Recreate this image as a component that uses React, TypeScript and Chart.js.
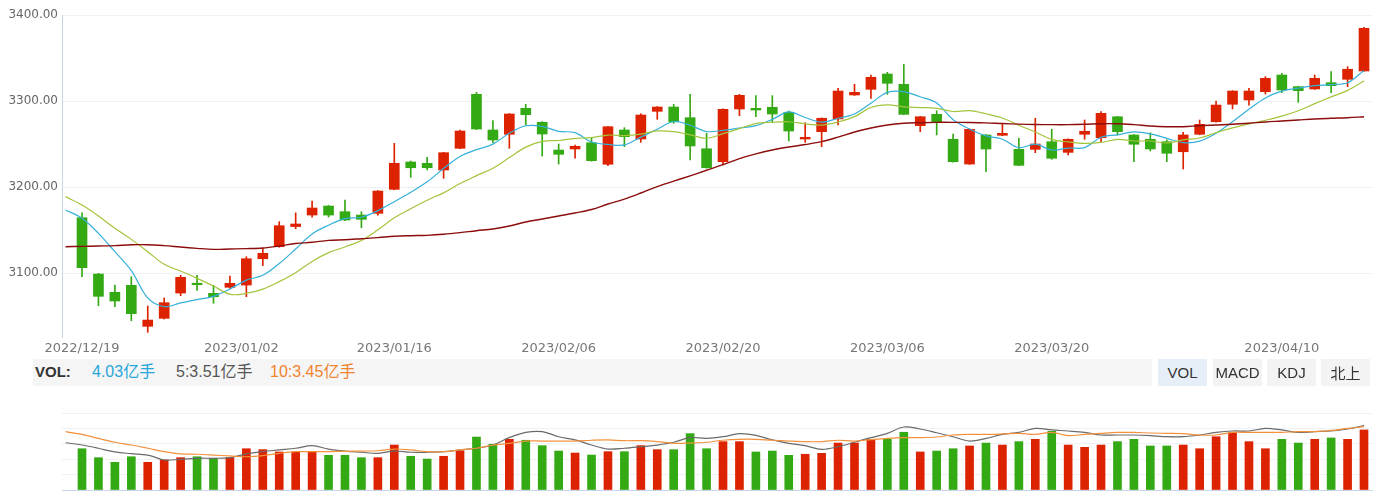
import React, { useEffect, useRef } from 'react';
import { Chart, registerables } from 'chart.js';

Chart.register(...registerables);

// ---------- DATA (index 0 = prior trading day, only moving averages shown) ----------
const dates = [
  '2022/12/16',
  '2022/12/19', '2022/12/20', '2022/12/21', '2022/12/22', '2022/12/23',
  '2022/12/26', '2022/12/27', '2022/12/28', '2022/12/29', '2022/12/30',
  '2023/01/03', '2023/01/04', '2023/01/05', '2023/01/06',
  '2023/01/09', '2023/01/10', '2023/01/11', '2023/01/12', '2023/01/13',
  '2023/01/16', '2023/01/17', '2023/01/18', '2023/01/19', '2023/01/20',
  '2023/01/30', '2023/01/31', '2023/02/01', '2023/02/02', '2023/02/03',
  '2023/02/06', '2023/02/07', '2023/02/08', '2023/02/09', '2023/02/10',
  '2023/02/13', '2023/02/14', '2023/02/15', '2023/02/16', '2023/02/17',
  '2023/02/20', '2023/02/21', '2023/02/22', '2023/02/23', '2023/02/24',
  '2023/02/27', '2023/02/28', '2023/03/01', '2023/03/02', '2023/03/03',
  '2023/03/06', '2023/03/07', '2023/03/08', '2023/03/09', '2023/03/10',
  '2023/03/13', '2023/03/14', '2023/03/15', '2023/03/16', '2023/03/17',
  '2023/03/20', '2023/03/21', '2023/03/22', '2023/03/23', '2023/03/24',
  '2023/03/27', '2023/03/28', '2023/03/29', '2023/03/30', '2023/03/31',
  '2023/04/03', '2023/04/04', '2023/04/06', '2023/04/07',
  '2023/04/10', '2023/04/11', '2023/04/12', '2023/04/13', '2023/04/14',
  '2023/04/17',
];

const openP: (number | null)[] = [null,
  3164.3, 3098.8, 3077.6, 3085.7, 3038.0, 3047.3, 3076.7, 3088.0, 3076.4, 3083.4,
  3086.0, 3116.6, 3130.6, 3154.0, 3167.4, 3177.9, 3171.3, 3167.4, 3169.4, 3197.3,
  3229.1, 3227.6, 3219.8, 3245.0, 3307.8, 3266.3, 3261.3, 3291.5, 3275.2, 3243.0,
  3244.2, 3251.5, 3226.4, 3266.3, 3255.8, 3288.0, 3293.0, 3280.6, 3244.5, 3229.4,
  3290.7, 3291.5, 3292.7, 3286.9, 3255.8, 3264.3, 3279.1, 3307.0, 3313.6, 3331.4,
  3319.4, 3271.3, 3284.5, 3255.5, 3226.7, 3260.5, 3260.1, 3243.8, 3243.8, 3252.7,
  3240.3, 3261.3, 3257.3, 3281.7, 3260.5, 3255.5, 3252.7, 3241.0, 3261.3, 3275.9,
  3296.2, 3301.2, 3310.8, 3330.2, 3316.7, 3314.0, 3321.3, 3325.2, 3334.9,
];
const highP: (number | null)[] = [null,
  3170.1, 3099.6, 3086.0, 3095.7, 3061.6, 3071.0, 3097.3, 3097.3, 3085.7, 3096.5,
  3119.0, 3128.7, 3159.7, 3170.0, 3183.7, 3178.5, 3184.9, 3171.3, 3195.8, 3250.8,
  3230.2, 3234.5, 3240.4, 3266.3, 3310.1, 3277.1, 3285.4, 3296.2, 3276.0, 3250.0,
  3248.8, 3257.3, 3270.6, 3269.0, 3285.2, 3293.5, 3296.2, 3307.8, 3262.4, 3290.8,
  3307.8, 3306.2, 3306.2, 3288.4, 3274.8, 3280.4, 3314.8, 3319.4, 3330.2, 3333.4,
  3342.7, 3282.2, 3288.7, 3261.6, 3267.6, 3261.0, 3274.1, 3256.6, 3279.9, 3267.1,
  3255.9, 3277.9, 3287.6, 3282.2, 3261.0, 3263.1, 3254.7, 3263.6, 3277.9, 3300.0,
  3312.0, 3314.8, 3328.3, 3332.2, 3317.2, 3330.2, 3334.1, 3339.9, 3385.7,
];
const lowP: (number | null)[] = [null,
  3095.7, 3062.0, 3060.8, 3044.5, 3031.0, 3046.5, 3073.6, 3079.9, 3064.8, 3082.2,
  3072.4, 3108.5, 3130.0, 3151.5, 3165.0, 3165.0, 3161.0, 3152.7, 3167.4, 3196.8,
  3211.3, 3219.8, 3210.1, 3244.5, 3266.8, 3251.5, 3245.0, 3272.1, 3236.0, 3226.7,
  3233.4, 3230.0, 3224.8, 3246.9, 3252.0, 3278.7, 3274.0, 3231.4, 3221.9, 3225.6,
  3282.9, 3281.7, 3274.8, 3253.5, 3252.0, 3246.9, 3272.1, 3306.5, 3303.1, 3307.8,
  3284.0, 3264.3, 3260.5, 3229.0, 3226.2, 3217.8, 3259.6, 3224.8, 3239.9, 3232.2,
  3237.2, 3255.5, 3252.7, 3260.5, 3229.4, 3241.9, 3229.4, 3220.9, 3260.8, 3275.4,
  3290.7, 3295.3, 3308.1, 3309.7, 3298.5, 3313.5, 3309.7, 3316.7, 3334.4,
];
const closeP: (number | null)[] = [null,
  3106.2, 3072.9, 3067.4, 3052.7, 3045.3, 3065.5, 3095.0, 3086.4, 3072.4, 3088.0,
  3116.6, 3122.9, 3155.0, 3157.0, 3175.6, 3167.4, 3161.6, 3162.4, 3195.3, 3227.6,
  3222.4, 3222.4, 3239.9, 3265.1, 3267.4, 3254.7, 3284.9, 3284.1, 3261.6, 3238.0,
  3247.3, 3230.6, 3270.1, 3258.5, 3283.7, 3293.0, 3275.9, 3247.7, 3222.4, 3290.3,
  3306.6, 3289.5, 3284.9, 3265.1, 3257.8, 3279.9, 3311.6, 3310.1, 3327.6, 3320.6,
  3284.5, 3281.7, 3274.8, 3229.4, 3267.1, 3244.2, 3262.4, 3225.2, 3250.0, 3233.4,
  3255.5, 3264.8, 3285.7, 3264.3, 3249.7, 3244.2, 3239.2, 3260.5, 3272.9, 3295.3,
  3311.6, 3311.6, 3326.4, 3312.8, 3312.0, 3326.4, 3317.8, 3336.9, 3384.5,
];

const ma5 = [
  3173.3, 3163.6, 3146.1, 3124.8, 3102.7, 3071.0, 3060.8, 3065.2, 3069.0, 3072.9,
  3081.5, 3091.7, 3097.3, 3111.0, 3127.9, 3145.4, 3155.6, 3163.3, 3164.8, 3172.5,
  3182.9, 3193.9, 3206.0, 3221.5, 3235.5, 3243.4, 3249.9, 3262.4, 3271.2, 3270.5,
  3264.7, 3263.2, 3252.3, 3249.5, 3248.9, 3258.0, 3267.2, 3276.2, 3271.8, 3264.5,
  3265.9, 3268.6, 3271.3, 3278.7, 3287.3, 3280.8, 3275.4, 3279.9, 3284.9, 3297.4,
  3310.0, 3310.9, 3304.9, 3297.8, 3278.2, 3267.5, 3259.4, 3255.6, 3245.7, 3249.8,
  3243.0, 3245.3, 3245.8, 3257.9, 3260.7, 3264.0, 3261.7, 3256.6, 3251.6, 3253.3,
  3262.4, 3275.9, 3290.4, 3303.6, 3311.5, 3314.9, 3317.8, 3319.1, 3321.2, 3335.5,
];
const ma10 = [
  3188.8, 3179.1, 3166.3, 3152.0, 3139.1, 3124.8, 3110.1, 3102.3, 3093.8, 3084.9,
  3075.2, 3076.3, 3081.3, 3090.0, 3100.4, 3113.5, 3123.7, 3130.3, 3137.9, 3150.2,
  3164.2, 3174.8, 3184.7, 3193.2, 3204.0, 3213.2, 3221.9, 3234.2, 3246.4, 3253.0,
  3254.1, 3256.6, 3257.4, 3260.4, 3259.7, 3261.4, 3265.2, 3264.3, 3260.7, 3256.7,
  3262.0, 3267.9, 3273.8, 3275.3, 3275.9, 3273.4, 3272.0, 3275.6, 3281.8, 3292.4,
  3295.4, 3293.2, 3292.4, 3291.4, 3287.8, 3288.8, 3285.2, 3280.3, 3271.8, 3264.0,
  3255.3, 3252.4, 3250.7, 3251.8, 3255.3, 3253.5, 3253.5, 3251.2, 3254.8, 3257.0,
  3263.2, 3268.8, 3273.5, 3277.6, 3282.4, 3288.7, 3296.9, 3304.8, 3312.4, 3323.5,
];
const maLong = [
  3130.6, 3131.0, 3131.4, 3131.8, 3132.9, 3132.9, 3131.8, 3130.2, 3128.7, 3127.5,
  3127.9, 3128.3, 3129.1, 3131.4, 3134.3, 3135.7, 3138.0, 3138.7, 3139.9, 3141.1,
  3142.7, 3143.4, 3143.8, 3145.0, 3146.9, 3149.2, 3151.2, 3154.7, 3159.3, 3162.8,
  3166.3, 3169.8, 3173.8, 3180.2, 3186.0, 3193.0, 3200.5, 3206.8, 3213.0, 3219.5,
  3226.0, 3233.0, 3238.5, 3243.0, 3246.5, 3249.4, 3252.7, 3258.0, 3264.0, 3268.6,
  3272.1, 3274.1, 3274.8, 3275.2, 3275.2, 3275.0, 3274.6, 3273.8, 3273.1, 3272.7,
  3272.5, 3272.5, 3272.9, 3273.6, 3273.6, 3272.5, 3270.9, 3270.1, 3270.1, 3271.3,
  3272.1, 3272.9, 3274.1, 3275.6, 3276.7, 3277.9, 3279.1, 3279.9, 3280.6, 3281.7,
];

// volume in 亿手
const volume: (number | null)[] = [null,
  2.68, 2.10, 1.80, 2.16, 1.80, 1.95, 2.10, 2.16, 2.06, 2.10,
  2.68, 2.62, 2.47, 2.47, 2.49, 2.25, 2.25, 2.10, 2.10, 2.92,
  2.19, 2.01, 2.19, 2.55, 3.44, 2.97, 3.29, 3.23, 2.88, 2.53,
  2.40, 2.27, 2.49, 2.49, 2.88, 2.62, 2.62, 3.66, 2.68, 3.14,
  3.14, 2.47, 2.53, 2.25, 2.32, 2.38, 3.05, 3.05, 3.29, 3.29,
  3.75, 2.47, 2.53, 2.68, 2.86, 3.05, 2.92, 3.14, 3.29, 3.81,
  2.92, 2.77, 2.92, 3.14, 3.29, 2.86, 2.86, 2.92, 2.68, 3.46,
  3.72, 3.14, 2.68, 3.29, 3.05, 3.29, 3.38, 3.29, 3.90,
];
const volMa5 = [
  3.07, 2.92, 2.71, 2.47, 2.36, 2.27, 1.95, 1.99, 2.06, 2.06,
  2.10, 2.34, 2.49, 2.60, 2.71, 2.88, 2.66, 2.53, 2.45, 2.38,
  2.53, 2.45, 2.45, 2.49, 2.60, 2.71, 2.92, 3.40, 3.74, 3.79,
  3.46, 3.25, 2.92, 2.66, 2.71, 2.81, 2.92, 3.10, 3.40, 3.35,
  3.46, 3.66, 3.55, 3.25, 3.03, 2.88, 2.64, 2.81, 3.10, 3.40,
  3.68, 4.09, 3.96, 3.72, 3.46, 3.18, 3.35, 3.61, 3.74, 4.00,
  3.90, 3.83, 3.74, 3.57, 3.57, 3.57, 3.53, 3.46, 3.46, 3.57,
  3.74, 3.83, 3.83, 4.00, 3.90, 3.74, 3.79, 3.83, 3.96, 4.18,
];
const volMa10 = [
  3.79, 3.61, 3.35, 3.10, 2.92, 2.71, 2.49, 2.34, 2.32, 2.27,
  2.21, 2.16, 2.23, 2.38, 2.49, 2.49, 2.49, 2.51, 2.53, 2.55,
  2.66, 2.60, 2.49, 2.49, 2.60, 2.71, 2.92, 3.03, 3.18, 3.18,
  3.18, 3.18, 3.23, 3.25, 3.20, 3.20, 3.14, 3.03, 3.05, 3.10,
  3.23, 3.29, 3.29, 3.23, 3.18, 3.14, 3.14, 3.23, 3.18, 3.27,
  3.35, 3.40, 3.40, 3.44, 3.57, 3.61, 3.61, 3.64, 3.68, 3.61,
  3.74, 3.53, 3.61, 3.68, 3.74, 3.74, 3.70, 3.68, 3.66, 3.57,
  3.57, 3.74, 3.74, 3.74, 3.74, 3.79, 3.79, 3.87, 4.00, 4.11,
];

const xTickLabels = ['2022/12/19', '2023/01/02', '2023/01/16', '2023/02/06', '2023/02/20', '2023/03/06', '2023/03/20', '2023/04/10'];
const xTickPos = [1, 10.7, 20, 30, 40, 50, 60, 74];
const yTickValues = [3100, 3200, 3300, 3400];
const volGridValues = [0, 1, 2, 3, 4, 5];

const legendLast = { vol: '4.03亿手', ma5: '5:3.51亿手', ma10: '10:3.45亿手' };
const tabs = ['VOL', 'MACD', 'KDJ', '北上'];

// ---------- STYLE ----------
const RED = '#dd2200';
const GREEN = '#33a914';
const X_MIN = -0.217;
const X_MAX = 79.486;
const GRID = '#eef1f5';
const AXIS = '#c5d4ea';
const X_FONT = { family: '"DejaVu Sans", sans-serif', size: 13 };
const Y_FONT = { family: '"DejaVu Sans", sans-serif', size: 12 };

function lineSet(values: number[], color: string, width: number, order = 0) {
  return {
    type: 'line' as const,
    data: values.map((v, j) => ({ x: j, y: v })),
    borderColor: color,
    borderWidth: width,
    pointRadius: 0,
    tension: 0.35,
    fill: false,
    order,
  };
}

export default function App() {
  const mainRef = useRef<HTMLCanvasElement>(null);
  const volRef = useRef<HTMLCanvasElement>(null);

  useEffect(() => {
    const bodies: any[] = [];
    const wicks: any[] = [];
    const colors: string[] = [];
    const vols: any[] = [];
    for (let j = 0; j < dates.length; j++) {
      const o = openP[j], c = closeP[j], h = highP[j], l = lowP[j];
      if (o == null || c == null || h == null || l == null) continue;
      const up = c >= o;
      bodies.push({ x: j, y: [o, c] });
      wicks.push({ x: j, y: [l, h] });
      colors.push(up ? RED : GREEN);
      vols.push({ x: j, y: volume[j] });
    }

    const mainChart = new Chart(mainRef.current!, {
      type: 'bar',
      data: {
        datasets: [
          lineSet(maLong, '#8c0c0c', 1.4, 0),
          lineSet(ma10, '#a3c43c', 1.2, 0),
          lineSet(ma5, '#35b0da', 1.2, 0),
          {
            type: 'bar',
            data: bodies,
            backgroundColor: colors,
            barThickness: 10,
            minBarLength: 1.5,
            grouped: false,
            order: 1,
          } as any,
          {
            type: 'bar',
            data: wicks,
            backgroundColor: colors,
            barThickness: 1,
            grouped: false,
            order: 2,
          } as any,
        ],
      },
      options: {
        animation: false,
        responsive: false,
        maintainAspectRatio: false,
        layout: { padding: { top: 15, right: 5, left: 0, bottom: 0 } },
        plugins: { legend: { display: false }, tooltip: { enabled: false } },
        scales: {
          x: {
            type: 'linear',
            min: X_MIN,
            max: X_MAX,
            offset: false,
            grid: { display: false, drawTicks: false },
            border: { display: false },
            afterBuildTicks: (s: any) => { s.ticks = xTickPos.map((v) => ({ value: v })); },
            afterFit: (s: any) => { s.height = 23; },
            ticks: {
              autoSkip: false,
              maxRotation: 0,
              padding: 4,
              color: '#777',
              font: X_FONT,
              callback: (_v: any, i: number) => xTickLabels[i],
            },
          },
          y: {
            type: 'linear',
            min: 3025.6,
            max: 3400,
            afterBuildTicks: (s: any) => { s.ticks = yTickValues.map((v) => ({ value: v })); },
            afterFit: (s: any) => { s.width = 62; },
            grid: { color: GRID, drawTicks: false },
            border: { display: true, color: AXIS },
            ticks: {
              padding: 4,
              color: '#666',
              font: Y_FONT,
              callback: (v: any) => Number(v).toFixed(2),
            },
          },
        },
      } as any,
    });

    const volChart = new Chart(volRef.current!, {
      type: 'bar',
      data: {
        datasets: [
          lineSet(volMa10, '#f3913d', 1.2, 0),
          lineSet(volMa5, '#6a6a6a', 1.2, 0),
          {
            type: 'bar',
            data: vols,
            backgroundColor: colors,
            barThickness: 8,
            grouped: false,
            order: 1,
          } as any,
        ],
      },
      options: {
        animation: false,
        responsive: false,
        maintainAspectRatio: false,
        layout: { padding: { top: 18, right: 5, left: 0, bottom: 0 } },
        plugins: { legend: { display: false }, tooltip: { enabled: false } },
        scales: {
          x: {
            type: 'linear',
            min: X_MIN,
            max: X_MAX,
            offset: false,
            grid: { display: false, drawTicks: false },
            border: { display: true, color: AXIS },
            ticks: { display: false },
            afterFit: (s: any) => { s.height = 2; },
          },
          y: {
            type: 'linear',
            min: 0,
            max: 5,
            afterBuildTicks: (s: any) => { s.ticks = volGridValues.map((v) => ({ value: v })); },
            afterFit: (s: any) => { s.width = 62; },
            grid: { color: GRID, drawTicks: false },
            border: { display: false },
            ticks: { display: false },
          },
        },
      } as any,
    });

    return () => {
      mainChart.destroy();
      volChart.destroy();
    };
  }, []);

  const legendFont = '"Liberation Sans", Arial, "Noto Sans CJK SC", sans-serif';
  const tabLeft = [1158, 1213, 1267, 1321];
  const legendText = { position: 'absolute' as const, top: 362, fontSize: 16, lineHeight: '20px' };

  return (
    <div style={{ position: 'absolute', left: 0, top: 0, width: 1377, height: 492, background: '#fff', overflow: 'hidden', fontFamily: legendFont }}>
      <canvas ref={mainRef} width={1377} height={360} style={{ position: 'absolute', left: 0, top: 0 }} />
      <div style={{ position: 'absolute', left: 33, top: 359, width: 1119, height: 27, background: '#f5f5f5' }} />
      <span style={{ ...legendText, left: 35, fontSize: 15, fontWeight: 'bold', color: '#333' }}>VOL:</span>
      <span style={{ ...legendText, left: 92, color: '#27a6da' }}>{legendLast.vol}</span>
      <span style={{ ...legendText, left: 176, color: '#555' }}>{legendLast.ma5}</span>
      <span style={{ ...legendText, left: 270, color: '#f0842e' }}>{legendLast.ma10}</span>
      {tabs.map((t, i) => (
        <div key={t} style={{
          position: 'absolute', left: tabLeft[i], top: 359, width: 49, height: 27,
          background: i === 0 ? '#e6eef8' : '#f3f3f3', color: '#333', fontSize: 15,
          display: 'flex', alignItems: 'center', justifyContent: 'center',
        }}>{t}</div>
      ))}
      <canvas ref={volRef} width={1377} height={97} style={{ position: 'absolute', left: 0, top: 395 }} />
    </div>
  );
}
